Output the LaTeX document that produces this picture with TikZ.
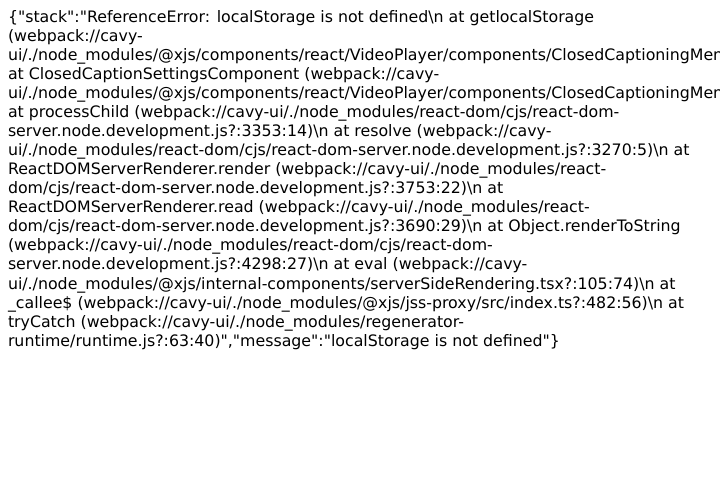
\documentclass[tikz,border=0pt]{standalone}
\usepackage{fontspec}
\newfontfamily\djv{DejaVu Sans}
\newcommand{\bs}{\textbackslash}
\begin{document}
\begin{tikzpicture}[x=1bp,y=-1bp,
  ln/.style={anchor=base west,inner sep=0pt,outer sep=0pt,font=\djv\fontsize{15.85}{19}\selectfont,text=black}]
\useasboundingbox[fill=white] (0,0) rectangle (720,480);
\clip (0,0) rectangle (720,480);
\node[ln] (l1) at (8,23) {\{"stack":"ReferenceError: localStorage is not defined\bs n at getlocalStorage};
\node[ln] (l2) at (8,42) {(webpack://cavy-};
\node[ln] (l3) at (8,61) {ui/./node\_modules/@xjs/components/react/VideoPlayer/components/ClosedCaptioningMenu};
\node[ln] (l4) at (8,80) {at ClosedCaptionSettingsComponent (webpack://cavy-};
\node[ln] (l5) at (8,99) {ui/./node\_modules/@xjs/components/react/VideoPlayer/components/ClosedCaptioningMenu};
\node[ln] (l6) at (8,118) {at processChild (webpack://cavy-ui/./node\_modules/react-dom/cjs/react-dom-};
\node[ln] (l7) at (8,137) {server.node.development.js?:3353:14)\bs n at resolve (webpack://cavy-};
\node[ln] (l8) at (8,156) {ui/./node\_modules/react-dom/cjs/react-dom-server.node.development.js?:3270:5)\bs n at};
\node[ln] (l9) at (8,175) {ReactDOMServerRenderer.render (webpack://cavy-ui/./node\_modules/react-};
\node[ln] (l10) at (8,194) {dom/cjs/react-dom-server.node.development.js?:3753:22)\bs n at};
\node[ln] (l11) at (8,213) {ReactDOMServerRenderer.read (webpack://cavy-ui/./node\_modules/react-};
\node[ln] (l12) at (8,232) {dom/cjs/react-dom-server.node.development.js?:3690:29)\bs n at Object.renderToString};
\node[ln] (l13) at (8,251) {(webpack://cavy-ui/./node\_modules/react-dom/cjs/react-dom-};
\node[ln] (l14) at (8,270) {server.node.development.js?:4298:27)\bs n at eval (webpack://cavy-};
\node[ln] (l15) at (8,289) {ui/./node\_modules/@xjs/internal-components/serverSideRendering.tsx?:105:74)\bs n at};
\node[ln] (l16) at (8,308) {\_callee\$ (webpack://cavy-ui/./node\_modules/@xjs/jss-proxy/src/index.ts?:482:56)\bs n at};
\node[ln] (l17) at (8,327) {tryCatch (webpack://cavy-ui/./node\_modules/regenerator-};
\node[ln] (l18) at (8,346) {runtime/runtime.js?:63:40)","message":"localStorage is not defined"\}};
\end{tikzpicture}
\end{document}
